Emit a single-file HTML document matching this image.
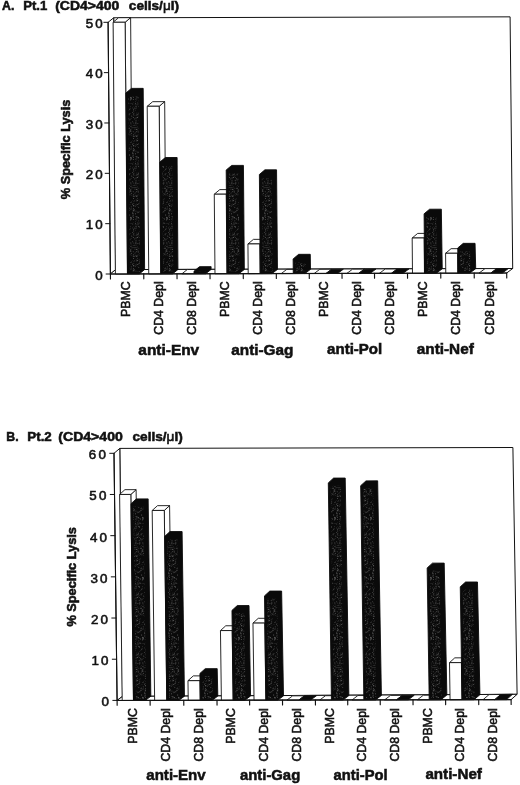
<!DOCTYPE html>
<html lang="en">
<head>
<meta charset="utf-8">
<title>Specific lysis, Pt.1 and Pt.2</title>
<style>html,body{margin:0;padding:0;background:#fff}svg{display:block}</style>
</head>
<body>
<svg width="520" height="785" viewBox="0 0 520 785" font-family="'Liberation Sans', Arial, Helvetica, sans-serif" fill="#111">
<defs><pattern id="sp" width="12" height="60" patternUnits="userSpaceOnUse"><circle cx="3.99" cy="9.05" r="0.39" fill="#666"/><circle cx="9.66" cy="5.65" r="0.37" fill="#444"/><circle cx="2.75" cy="5.16" r="0.33" fill="#888"/><circle cx="1.33" cy="25.47" r="0.43" fill="#666"/><circle cx="11.1" cy="37.84" r="0.37" fill="#666"/><circle cx="6.88" cy="23.8" r="0.47" fill="#666"/><circle cx="6.65" cy="7.99" r="0.33" fill="#444"/><circle cx="1.64" cy="18.51" r="0.43" fill="#888"/><circle cx="1.47" cy="34.27" r="0.27" fill="#666"/><circle cx="6.54" cy="3.77" r="0.24" fill="#888"/><circle cx="5.96" cy="31.9" r="0.42" fill="#777"/><circle cx="6.98" cy="27.19" r="0.3" fill="#888"/><circle cx="8.27" cy="14.65" r="0.37" fill="#444"/><circle cx="5.94" cy="20.61" r="0.34" fill="#444"/><circle cx="11.47" cy="7.08" r="0.33" fill="#555"/><circle cx="2.03" cy="29.34" r="0.23" fill="#999"/><circle cx="1.18" cy="33.48" r="0.43" fill="#555"/><circle cx="4.18" cy="21.01" r="0.35" fill="#777"/><circle cx="1.08" cy="5.62" r="0.29" fill="#999"/><circle cx="7.87" cy="3.64" r="0.4" fill="#999"/><circle cx="6.89" cy="40.87" r="0.34" fill="#999"/><circle cx="4.7" cy="40.12" r="0.23" fill="#777"/><circle cx="4.35" cy="36.66" r="0.35" fill="#888"/><circle cx="9.06" cy="7.76" r="0.28" fill="#777"/><circle cx="10.75" cy="29.79" r="0.26" fill="#777"/><circle cx="6.56" cy="53" r="0.43" fill="#444"/><circle cx="3.47" cy="24.92" r="0.31" fill="#777"/><circle cx="11.22" cy="9.06" r="0.27" fill="#888"/><circle cx="7.81" cy="0.72" r="0.44" fill="#888"/><circle cx="3.3" cy="0.25" r="0.33" fill="#555"/><circle cx="7.25" cy="19.12" r="0.25" fill="#444"/><circle cx="11.13" cy="39.3" r="0.41" fill="#777"/><circle cx="10.55" cy="46.8" r="0.45" fill="#444"/><circle cx="4.77" cy="23.94" r="0.25" fill="#999"/><circle cx="4.87" cy="11.44" r="0.48" fill="#777"/><circle cx="2.15" cy="20.4" r="0.23" fill="#666"/><circle cx="6.76" cy="32.2" r="0.47" fill="#444"/><circle cx="0.59" cy="52.46" r="0.38" fill="#888"/><circle cx="7.53" cy="57.33" r="0.38" fill="#777"/><circle cx="1.7" cy="50.94" r="0.48" fill="#777"/><circle cx="5.78" cy="18.71" r="0.26" fill="#999"/><circle cx="4.21" cy="15.89" r="0.44" fill="#888"/><circle cx="6.19" cy="12.31" r="0.47" fill="#555"/><circle cx="1.97" cy="32.59" r="0.23" fill="#444"/><circle cx="3.7" cy="38.58" r="0.24" fill="#555"/><circle cx="6.21" cy="54.5" r="0.31" fill="#888"/><circle cx="6.37" cy="46.74" r="0.31" fill="#888"/><circle cx="7.29" cy="47.3" r="0.42" fill="#888"/><circle cx="9.49" cy="49.1" r="0.41" fill="#888"/><circle cx="2.58" cy="29.57" r="0.41" fill="#666"/><circle cx="9.31" cy="28.33" r="0.27" fill="#444"/><circle cx="11.2" cy="26.83" r="0.46" fill="#555"/><circle cx="11.19" cy="21.88" r="0.28" fill="#888"/><circle cx="5.66" cy="20.26" r="0.35" fill="#444"/><circle cx="9.88" cy="28.77" r="0.39" fill="#999"/><circle cx="1.27" cy="39.64" r="0.46" fill="#999"/><circle cx="8.85" cy="28.68" r="0.27" fill="#999"/><circle cx="4.09" cy="48.05" r="0.47" fill="#777"/><circle cx="5.58" cy="44.6" r="0.24" fill="#888"/><circle cx="2.24" cy="7.62" r="0.26" fill="#777"/><circle cx="9.49" cy="8.77" r="0.43" fill="#777"/><circle cx="7.79" cy="21.02" r="0.36" fill="#888"/><circle cx="0.54" cy="47.96" r="0.41" fill="#666"/><circle cx="6.3" cy="56.02" r="0.33" fill="#888"/><circle cx="9.72" cy="12.66" r="0.29" fill="#555"/><circle cx="6.01" cy="45.82" r="0.3" fill="#444"/><circle cx="5.08" cy="7.86" r="0.46" fill="#555"/><circle cx="10.53" cy="39.75" r="0.43" fill="#444"/><circle cx="5.1" cy="55.06" r="0.35" fill="#444"/><circle cx="2.03" cy="30.63" r="0.45" fill="#888"/><circle cx="7.24" cy="46.56" r="0.26" fill="#888"/><circle cx="5.7" cy="43.51" r="0.36" fill="#555"/><circle cx="8.08" cy="31.84" r="0.35" fill="#666"/><circle cx="10.37" cy="3.41" r="0.27" fill="#666"/><circle cx="9.1" cy="30.46" r="0.37" fill="#666"/><circle cx="5.35" cy="36.75" r="0.35" fill="#444"/><circle cx="2.57" cy="16.63" r="0.35" fill="#777"/><circle cx="6.09" cy="14.86" r="0.36" fill="#555"/><circle cx="10.82" cy="53.57" r="0.27" fill="#777"/><circle cx="1.86" cy="7.3" r="0.33" fill="#666"/><circle cx="7.95" cy="25.7" r="0.28" fill="#555"/><circle cx="9.24" cy="53.82" r="0.26" fill="#999"/><circle cx="7.64" cy="21.97" r="0.29" fill="#888"/><circle cx="11.33" cy="13.18" r="0.47" fill="#777"/><circle cx="10.39" cy="9.77" r="0.39" fill="#888"/><circle cx="2.14" cy="25.89" r="0.35" fill="#555"/><circle cx="5.1" cy="21.4" r="0.24" fill="#555"/><circle cx="0.52" cy="33.24" r="0.33" fill="#666"/><circle cx="4.68" cy="31.05" r="0.3" fill="#666"/><circle cx="1.59" cy="55.11" r="0.28" fill="#666"/><circle cx="1.26" cy="16.32" r="0.46" fill="#888"/><circle cx="3.38" cy="7.77" r="0.33" fill="#999"/><circle cx="9.64" cy="15.52" r="0.26" fill="#444"/><circle cx="6.8" cy="42.03" r="0.24" fill="#666"/><circle cx="9.42" cy="11" r="0.45" fill="#555"/><circle cx="11" cy="38.07" r="0.43" fill="#666"/><circle cx="7.23" cy="13.34" r="0.29" fill="#666"/><circle cx="5.47" cy="20.35" r="0.36" fill="#555"/><circle cx="7.39" cy="2.59" r="0.4" fill="#666"/><circle cx="11.35" cy="15.71" r="0.27" fill="#555"/><circle cx="7.47" cy="31.87" r="0.27" fill="#777"/><circle cx="6" cy="10.67" r="0.31" fill="#666"/><circle cx="11.64" cy="2.22" r="0.22" fill="#444"/><circle cx="6.58" cy="11.37" r="0.34" fill="#777"/><circle cx="1.51" cy="49.14" r="0.33" fill="#777"/><circle cx="6.52" cy="53.32" r="0.47" fill="#555"/><circle cx="8.14" cy="58.95" r="0.31" fill="#999"/><circle cx="8.61" cy="8.38" r="0.48" fill="#666"/><circle cx="9.84" cy="0.86" r="0.38" fill="#555"/><circle cx="5.21" cy="3.32" r="0.39" fill="#777"/><circle cx="10.22" cy="40.23" r="0.29" fill="#888"/><circle cx="8.2" cy="2.71" r="0.27" fill="#555"/><circle cx="5.38" cy="15.79" r="0.47" fill="#444"/><circle cx="3.99" cy="2.07" r="0.45" fill="#888"/><circle cx="4.37" cy="0.06" r="0.32" fill="#777"/><circle cx="3.48" cy="39.36" r="0.28" fill="#666"/><circle cx="1.34" cy="49.02" r="0.26" fill="#444"/><circle cx="0.78" cy="1.35" r="0.3" fill="#888"/><circle cx="1.26" cy="57.46" r="0.44" fill="#888"/><circle cx="7.8" cy="42.96" r="0.45" fill="#777"/><circle cx="9.01" cy="43.24" r="0.35" fill="#555"/><circle cx="8.56" cy="38.59" r="0.23" fill="#999"/><circle cx="10.47" cy="37.64" r="0.41" fill="#444"/><circle cx="1.89" cy="31.43" r="0.35" fill="#666"/><circle cx="9.72" cy="35.04" r="0.45" fill="#999"/><circle cx="11.2" cy="38.57" r="0.24" fill="#666"/><circle cx="1.82" cy="21.64" r="0.25" fill="#777"/><circle cx="6.67" cy="37.67" r="0.38" fill="#999"/><circle cx="3.09" cy="15.83" r="0.34" fill="#666"/><circle cx="8.83" cy="30.18" r="0.36" fill="#999"/><circle cx="6.3" cy="44.74" r="0.34" fill="#666"/><circle cx="9.95" cy="14.09" r="0.42" fill="#888"/><circle cx="8.73" cy="58.54" r="0.35" fill="#777"/><circle cx="1.17" cy="54.63" r="0.29" fill="#666"/><circle cx="7.33" cy="38.57" r="0.24" fill="#888"/><circle cx="4.08" cy="39.09" r="0.4" fill="#444"/><circle cx="6.77" cy="0.75" r="0.24" fill="#555"/><circle cx="11.39" cy="5.97" r="0.28" fill="#777"/><circle cx="3.62" cy="30.99" r="0.34" fill="#777"/><circle cx="9.05" cy="59.6" r="0.36" fill="#555"/><circle cx="11.45" cy="56.18" r="0.22" fill="#777"/><circle cx="1.17" cy="30.4" r="0.48" fill="#555"/><circle cx="4.71" cy="54.99" r="0.46" fill="#666"/><circle cx="6.93" cy="8.5" r="0.36" fill="#555"/><circle cx="1.81" cy="49.21" r="0.35" fill="#666"/><circle cx="8.32" cy="13.88" r="0.45" fill="#777"/><circle cx="4.79" cy="9.54" r="0.47" fill="#999"/><circle cx="5.44" cy="18.12" r="0.26" fill="#555"/><circle cx="4.59" cy="7.25" r="0.31" fill="#555"/><circle cx="8.86" cy="50.35" r="0.25" fill="#888"/><circle cx="8.43" cy="54.09" r="0.3" fill="#555"/><circle cx="1.04" cy="23.41" r="0.45" fill="#666"/><circle cx="4.41" cy="25.68" r="0.29" fill="#666"/><circle cx="3.5" cy="3.1" r="0.39" fill="#999"/><circle cx="10.97" cy="14.96" r="0.29" fill="#444"/><circle cx="3.9" cy="46.39" r="0.42" fill="#777"/><circle cx="10.38" cy="48.72" r="0.38" fill="#444"/><circle cx="6.56" cy="43.17" r="0.23" fill="#999"/><circle cx="4.98" cy="36.89" r="0.26" fill="#555"/><circle cx="5.84" cy="54.71" r="0.36" fill="#888"/><circle cx="5.68" cy="20.62" r="0.3" fill="#999"/><circle cx="8.72" cy="39.17" r="0.33" fill="#888"/><circle cx="3.73" cy="33.44" r="0.32" fill="#888"/><circle cx="7.63" cy="4.51" r="0.35" fill="#777"/><circle cx="6.57" cy="27.18" r="0.31" fill="#777"/><circle cx="5.17" cy="32.87" r="0.28" fill="#888"/><circle cx="4.2" cy="5.47" r="0.28" fill="#555"/><circle cx="9.53" cy="12.13" r="0.23" fill="#777"/><circle cx="4.66" cy="44.75" r="0.27" fill="#555"/><circle cx="4.16" cy="3.72" r="0.29" fill="#555"/><circle cx="1.73" cy="30.2" r="0.38" fill="#888"/><circle cx="1.36" cy="53.81" r="0.32" fill="#999"/><circle cx="5.38" cy="57.24" r="0.44" fill="#666"/><circle cx="1.75" cy="25.51" r="0.42" fill="#777"/><circle cx="11.34" cy="29.39" r="0.24" fill="#444"/><circle cx="10.05" cy="58.33" r="0.28" fill="#666"/><circle cx="2.85" cy="9.12" r="0.47" fill="#666"/><circle cx="11.03" cy="43.3" r="0.39" fill="#777"/><circle cx="1.27" cy="46.61" r="0.22" fill="#888"/><circle cx="2.95" cy="55.2" r="0.39" fill="#555"/><circle cx="11.27" cy="37.59" r="0.36" fill="#777"/><circle cx="8.26" cy="6.73" r="0.24" fill="#444"/><circle cx="11.06" cy="11.5" r="0.29" fill="#444"/><circle cx="0.31" cy="32.25" r="0.48" fill="#555"/><circle cx="11.23" cy="38.67" r="0.45" fill="#777"/><circle cx="6.3" cy="32.82" r="0.23" fill="#777"/><circle cx="8.33" cy="18.44" r="0.23" fill="#777"/><circle cx="10.39" cy="38.83" r="0.24" fill="#888"/><circle cx="7.91" cy="55.51" r="0.28" fill="#666"/><circle cx="8.23" cy="43.1" r="0.31" fill="#777"/><circle cx="2.56" cy="47.82" r="0.41" fill="#444"/><circle cx="1.07" cy="29.74" r="0.27" fill="#888"/><circle cx="2.93" cy="13.29" r="0.42" fill="#555"/><circle cx="1.54" cy="37.42" r="0.38" fill="#888"/><circle cx="5.83" cy="54.62" r="0.23" fill="#444"/><circle cx="1.97" cy="23.61" r="0.28" fill="#444"/><circle cx="1.92" cy="3.11" r="0.24" fill="#777"/><circle cx="5.43" cy="42.72" r="0.3" fill="#666"/><circle cx="11.67" cy="55.9" r="0.31" fill="#888"/><circle cx="7.74" cy="31.49" r="0.34" fill="#555"/><circle cx="7.87" cy="22.72" r="0.32" fill="#555"/><circle cx="5.34" cy="6.54" r="0.24" fill="#666"/><circle cx="4.31" cy="57.33" r="0.25" fill="#888"/><circle cx="4.63" cy="46.12" r="0.3" fill="#777"/><circle cx="1.3" cy="42.32" r="0.27" fill="#444"/><circle cx="10.78" cy="11.58" r="0.31" fill="#777"/><circle cx="0.65" cy="24.65" r="0.43" fill="#777"/><circle cx="0.76" cy="2.09" r="0.24" fill="#666"/><circle cx="3.23" cy="44.84" r="0.45" fill="#555"/><circle cx="4.44" cy="20.1" r="0.47" fill="#666"/><circle cx="3.29" cy="43" r="0.3" fill="#555"/><circle cx="3.69" cy="43.29" r="0.37" fill="#999"/><circle cx="11.09" cy="3.92" r="0.43" fill="#666"/><circle cx="5.72" cy="57.41" r="0.47" fill="#777"/><circle cx="9.3" cy="54.81" r="0.43" fill="#888"/><circle cx="10.88" cy="10.98" r="0.43" fill="#999"/><circle cx="3.76" cy="41.53" r="0.26" fill="#888"/><circle cx="4.04" cy="19.17" r="0.31" fill="#444"/><circle cx="1.2" cy="11.84" r="0.42" fill="#888"/><circle cx="4.95" cy="38.97" r="0.35" fill="#444"/><circle cx="4.01" cy="58.82" r="0.45" fill="#666"/><circle cx="3.32" cy="5.04" r="0.25" fill="#777"/><circle cx="11.57" cy="58.33" r="0.27" fill="#888"/><circle cx="5.05" cy="37.22" r="0.4" fill="#999"/><circle cx="6.44" cy="46.43" r="0.42" fill="#555"/><circle cx="3.65" cy="34.01" r="0.32" fill="#999"/><circle cx="3.27" cy="26.36" r="0.27" fill="#888"/><circle cx="2.05" cy="53.05" r="0.37" fill="#555"/><circle cx="1.04" cy="15.1" r="0.28" fill="#444"/><circle cx="2.94" cy="48.51" r="0.39" fill="#666"/><circle cx="1.47" cy="28.49" r="0.43" fill="#777"/><circle cx="10.72" cy="2.42" r="0.3" fill="#666"/><circle cx="0.87" cy="36.03" r="0.44" fill="#888"/><circle cx="10.9" cy="22.33" r="0.45" fill="#777"/><circle cx="7.17" cy="46.5" r="0.39" fill="#666"/><circle cx="1.51" cy="35.77" r="0.38" fill="#888"/><circle cx="0.73" cy="20.4" r="0.23" fill="#555"/><circle cx="0.74" cy="43.93" r="0.46" fill="#666"/><circle cx="9.63" cy="24.54" r="0.32" fill="#444"/><circle cx="3.86" cy="12.2" r="0.43" fill="#444"/><circle cx="5.81" cy="24.49" r="0.43" fill="#999"/><circle cx="6.57" cy="38.35" r="0.24" fill="#888"/><circle cx="4.83" cy="16.27" r="0.48" fill="#999"/><circle cx="3.81" cy="57.19" r="0.3" fill="#444"/><circle cx="10.37" cy="24.84" r="0.22" fill="#555"/><circle cx="7.65" cy="23.44" r="0.33" fill="#666"/><circle cx="5.25" cy="9.39" r="0.25" fill="#666"/><circle cx="4.93" cy="52.97" r="0.34" fill="#888"/><circle cx="1.78" cy="3.1" r="0.26" fill="#777"/><circle cx="1.31" cy="37.33" r="0.32" fill="#444"/><circle cx="2.26" cy="20.88" r="0.26" fill="#888"/><circle cx="10.85" cy="6.53" r="0.35" fill="#888"/><circle cx="3.74" cy="50.24" r="0.23" fill="#777"/><circle cx="3.89" cy="36.46" r="0.39" fill="#666"/><circle cx="10.61" cy="37.22" r="0.43" fill="#888"/><circle cx="7.6" cy="51.4" r="0.38" fill="#444"/><circle cx="9.95" cy="49.75" r="0.27" fill="#888"/><circle cx="0.78" cy="56.31" r="0.26" fill="#555"/><circle cx="1.7" cy="14.82" r="0.41" fill="#888"/><circle cx="0.77" cy="33.74" r="0.42" fill="#666"/><circle cx="7.91" cy="19.45" r="0.32" fill="#777"/><circle cx="6.57" cy="37.62" r="0.3" fill="#777"/><circle cx="3.81" cy="14.96" r="0.32" fill="#555"/><circle cx="5.39" cy="26.3" r="0.23" fill="#444"/><circle cx="11.54" cy="27.92" r="0.34" fill="#444"/><circle cx="9.19" cy="27.5" r="0.27" fill="#777"/><circle cx="4.86" cy="4.03" r="0.31" fill="#555"/><circle cx="1.35" cy="26.52" r="0.35" fill="#666"/><circle cx="0.76" cy="7.82" r="0.46" fill="#555"/><circle cx="9.17" cy="30.69" r="0.23" fill="#444"/><circle cx="10.5" cy="39.16" r="0.42" fill="#666"/><circle cx="10.07" cy="59.77" r="0.41" fill="#666"/><circle cx="2.51" cy="58.9" r="0.35" fill="#888"/><circle cx="8.12" cy="43.26" r="0.28" fill="#555"/><circle cx="7.26" cy="15.13" r="0.3" fill="#444"/><circle cx="3.43" cy="48.94" r="0.26" fill="#444"/><circle cx="11.29" cy="28.81" r="0.37" fill="#444"/><circle cx="6.07" cy="19.14" r="0.23" fill="#888"/><circle cx="4.9" cy="38.19" r="0.29" fill="#555"/><circle cx="10.51" cy="10.12" r="0.42" fill="#666"/></pattern></defs>
<rect width="520" height="785" fill="#fff"/>
<g id="chartA">
<polygon points="115.6,269.6 113.7,17.75 510.1,16.85 512.7,268.5" fill="#fff" stroke="#111" stroke-width="1" stroke-linejoin="round"/>
<polygon points="110.4,274 108.1,22.3 113.7,17.75 115.6,269.6" fill="#fff" stroke="#111" stroke-width="1" stroke-linejoin="round"/>
<polygon points="110.4,274 115.6,269.6 512.7,268.5 506.7,273" fill="#fff" stroke="#111" stroke-width="1" stroke-linejoin="round"/>
<line x1="106.1" y1="274" x2="110.4" y2="274" stroke="#111" stroke-width="1" stroke-linecap="round"/>
<line x1="105.64" y1="223.66" x2="109.94" y2="223.66" stroke="#111" stroke-width="1" stroke-linecap="round"/>
<line x1="105.18" y1="173.32" x2="109.48" y2="173.32" stroke="#111" stroke-width="1" stroke-linecap="round"/>
<line x1="104.72" y1="122.98" x2="109.02" y2="122.98" stroke="#111" stroke-width="1" stroke-linecap="round"/>
<line x1="104.26" y1="72.64" x2="108.56" y2="72.64" stroke="#111" stroke-width="1" stroke-linecap="round"/>
<line x1="103.8" y1="22.3" x2="108.1" y2="22.3" stroke="#111" stroke-width="1" stroke-linecap="round"/>
<line x1="110.4" y1="274" x2="110.45" y2="278.9" stroke="#111" stroke-width="1.15" stroke-linecap="round"/>
<line x1="143.75" y1="273.92" x2="143.8" y2="278.82" stroke="#111" stroke-width="1.15" stroke-linecap="round"/>
<line x1="177" y1="273.83" x2="177.05" y2="278.73" stroke="#111" stroke-width="1.15" stroke-linecap="round"/>
<line x1="210" y1="273.75" x2="210.05" y2="278.65" stroke="#111" stroke-width="1.15" stroke-linecap="round"/>
<line x1="243.25" y1="273.67" x2="243.3" y2="278.57" stroke="#111" stroke-width="1.15" stroke-linecap="round"/>
<line x1="276.3" y1="273.58" x2="276.35" y2="278.48" stroke="#111" stroke-width="1.15" stroke-linecap="round"/>
<line x1="309.25" y1="273.5" x2="309.3" y2="278.4" stroke="#111" stroke-width="1.15" stroke-linecap="round"/>
<line x1="342" y1="273.42" x2="342.05" y2="278.32" stroke="#111" stroke-width="1.15" stroke-linecap="round"/>
<line x1="374.5" y1="273.33" x2="374.55" y2="278.23" stroke="#111" stroke-width="1.15" stroke-linecap="round"/>
<line x1="407.5" y1="273.25" x2="407.55" y2="278.15" stroke="#111" stroke-width="1.15" stroke-linecap="round"/>
<line x1="440.75" y1="273.17" x2="440.8" y2="278.07" stroke="#111" stroke-width="1.15" stroke-linecap="round"/>
<line x1="474.2" y1="273.08" x2="474.25" y2="277.98" stroke="#111" stroke-width="1.15" stroke-linecap="round"/>
<line x1="506.7" y1="273" x2="506.75" y2="277.9" stroke="#111" stroke-width="1.15" stroke-linecap="round"/>
<polygon points="127.41,273.96 125.11,22.26 130.61,17.66 132.64,269.58" fill="#fff" stroke="#111" stroke-width="0.9" stroke-linejoin="round"/>
<polygon points="113.1,22.29 118.6,17.69 130.61,17.66 125.11,22.26" fill="#fff" stroke="#111" stroke-width="0.9" stroke-linejoin="round"/>
<polygon points="115.4,273.99 113.1,22.29 125.11,22.26 127.41,273.96" fill="#fff" stroke="#111" stroke-width="0.9" stroke-linejoin="round"/>
<polygon points="127.58,273.96 125.92,92.99 131.42,88.39 143.2,88.36 144.61,269.56 139.35,273.93" fill="#0a0a0a" stroke="#0a0a0a" stroke-width="0.9" stroke-linejoin="round"/>
<polygon points="129.89,271.94 128.29,96.51 138.4,96.48 140,271.91" fill="url(#sp)" stroke="none" stroke-width="0" stroke-linejoin="round"/>
<polygon points="160.71,273.87 159.18,106.25 164.68,101.65 166.01,269.54" fill="#fff" stroke="#111" stroke-width="0.9" stroke-linejoin="round"/>
<polygon points="147.21,106.28 152.71,101.68 164.68,101.65 159.18,106.25" fill="#fff" stroke="#111" stroke-width="0.9" stroke-linejoin="round"/>
<polygon points="148.74,273.9 147.21,106.28 159.18,106.25 160.71,273.87" fill="#fff" stroke="#111" stroke-width="0.9" stroke-linejoin="round"/>
<polygon points="160.87,273.87 159.86,162.12 165.36,157.52 177.1,157.5 177.94,269.52 172.61,273.84" fill="#0a0a0a" stroke="#0a0a0a" stroke-width="0.9" stroke-linejoin="round"/>
<polygon points="163.18,271.85 162.22,165.64 172.29,165.62 173.26,271.83" fill="url(#sp)" stroke="none" stroke-width="0" stroke-linejoin="round"/>
<polygon points="181.95,273.82 187.29,269.51 199.2,269.5 193.83,273.79" fill="#fff" stroke="#111" stroke-width="0.9" stroke-linejoin="round"/>
<polygon points="194,273.79 193.97,271.27 199.47,266.67 211.12,266.64 211.04,269.48 205.64,273.76" fill="#0a0a0a" stroke="#0a0a0a" stroke-width="0.9" stroke-linejoin="round"/>
<polygon points="196.29,271.77 196.28,271.52 206.28,271.49 206.29,271.75" fill="url(#sp)" stroke="none" stroke-width="0" stroke-linejoin="round"/>
<polygon points="226.96,273.71 226.24,194.18 231.74,189.58 232.39,269.45" fill="#fff" stroke="#111" stroke-width="0.9" stroke-linejoin="round"/>
<polygon points="214.27,194.21 219.77,189.61 231.74,189.58 226.24,194.18" fill="#fff" stroke="#111" stroke-width="0.9" stroke-linejoin="round"/>
<polygon points="214.99,273.74 214.27,194.21 226.24,194.18 226.96,273.71" fill="#fff" stroke="#111" stroke-width="0.9" stroke-linejoin="round"/>
<polygon points="227.12,273.71 226.19,170.02 231.69,165.42 243.43,165.39 244.32,269.44 238.86,273.68" fill="#0a0a0a" stroke="#0a0a0a" stroke-width="0.9" stroke-linejoin="round"/>
<polygon points="229.43,271.69 228.55,173.54 238.62,173.51 239.51,271.66" fill="url(#sp)" stroke="none" stroke-width="0" stroke-linejoin="round"/>
<polygon points="260.11,273.62 259.84,243.93 265.34,239.33 265.61,269.41" fill="#fff" stroke="#111" stroke-width="0.9" stroke-linejoin="round"/>
<polygon points="247.94,243.96 253.44,239.36 265.34,239.33 259.84,243.93" fill="#fff" stroke="#111" stroke-width="0.9" stroke-linejoin="round"/>
<polygon points="248.21,273.65 247.94,243.96 259.84,243.93 260.11,273.62" fill="#fff" stroke="#111" stroke-width="0.9" stroke-linejoin="round"/>
<polygon points="260.27,273.62 259.38,174.47 264.88,169.87 276.55,169.84 277.46,269.4 271.94,273.59" fill="#0a0a0a" stroke="#0a0a0a" stroke-width="0.9" stroke-linejoin="round"/>
<polygon points="262.57,271.6 261.72,177.99 271.74,177.96 272.58,271.58" fill="url(#sp)" stroke="none" stroke-width="0" stroke-linejoin="round"/>
<polygon points="281.24,273.57 286.79,269.39 298.67,269.37 293.1,273.54" fill="#fff" stroke="#111" stroke-width="0.9" stroke-linejoin="round"/>
<polygon points="293.27,273.54 293.14,258.94 298.64,254.34 310.27,254.32 310.49,269.36 304.9,273.51" fill="#0a0a0a" stroke="#0a0a0a" stroke-width="0.9" stroke-linejoin="round"/>
<polygon points="295.56,271.52 295.48,262.46 305.46,262.44 305.54,271.5" fill="url(#sp)" stroke="none" stroke-width="0" stroke-linejoin="round"/>
<polygon points="314.16,273.49 319.77,269.33 331.59,269.28 325.95,273.46" fill="#fff" stroke="#111" stroke-width="0.9" stroke-linejoin="round"/>
<polygon points="326.12,273.46 331.75,269.28 343.33,269.23 337.68,273.43" fill="#0a0a0a" stroke="#111" stroke-width="0.9" stroke-linejoin="round"/>
<polygon points="346.88,273.4 352.55,269.19 364.28,269.14 358.57,273.37" fill="#fff" stroke="#111" stroke-width="0.9" stroke-linejoin="round"/>
<polygon points="358.74,273.37 364.44,269.14 375.93,269.09 370.21,273.34" fill="#0a0a0a" stroke="#111" stroke-width="0.9" stroke-linejoin="round"/>
<polygon points="379.45,273.32 385.19,269.05 397.1,268.99 391.33,273.29" fill="#fff" stroke="#111" stroke-width="0.9" stroke-linejoin="round"/>
<polygon points="391.5,273.29 397.26,268.99 408.94,268.94 403.14,273.26" fill="#0a0a0a" stroke="#111" stroke-width="0.9" stroke-linejoin="round"/>
<polygon points="424.46,273.21 424.15,237.98 429.65,233.38 430.29,268.85" fill="#fff" stroke="#111" stroke-width="0.9" stroke-linejoin="round"/>
<polygon points="412.18,238.01 417.68,233.41 429.65,233.38 424.15,237.98" fill="#fff" stroke="#111" stroke-width="0.9" stroke-linejoin="round"/>
<polygon points="412.49,273.24 412.18,238.01 424.15,237.98 424.46,273.21" fill="#fff" stroke="#111" stroke-width="0.9" stroke-linejoin="round"/>
<polygon points="424.62,273.21 424.1,213.82 429.6,209.22 441.34,209.2 442.22,268.8 436.36,273.18" fill="#0a0a0a" stroke="#0a0a0a" stroke-width="0.9" stroke-linejoin="round"/>
<polygon points="426.93,271.19 426.46,217.34 436.53,217.32 437.01,271.16" fill="url(#sp)" stroke="none" stroke-width="0" stroke-linejoin="round"/>
<polygon points="457.81,273.12 457.63,253.25 463.13,248.65 463.71,268.71" fill="#fff" stroke="#111" stroke-width="0.9" stroke-linejoin="round"/>
<polygon points="445.59,253.28 451.09,248.68 463.13,248.65 457.63,253.25" fill="#fff" stroke="#111" stroke-width="0.9" stroke-linejoin="round"/>
<polygon points="445.77,273.15 445.59,253.28 457.63,253.25 457.81,273.12" fill="#fff" stroke="#111" stroke-width="0.9" stroke-linejoin="round"/>
<polygon points="457.98,273.12 457.76,247.96 463.26,243.36 475.06,243.33 475.71,268.66 469.78,273.09" fill="#0a0a0a" stroke="#0a0a0a" stroke-width="0.9" stroke-linejoin="round"/>
<polygon points="460.3,271.11 460.13,251.48 470.26,251.45 470.44,271.08" fill="url(#sp)" stroke="none" stroke-width="0" stroke-linejoin="round"/>
<polygon points="479.07,273.07 485.02,268.62 496.74,268.57 490.77,273.04" fill="#fff" stroke="#111" stroke-width="0.9" stroke-linejoin="round"/>
<polygon points="490.94,273.04 496.91,268.57 508.4,268.52 502.41,273.01" fill="#0a0a0a" stroke="#111" stroke-width="0.9" stroke-linejoin="round"/>
<line x1="110.4" y1="274" x2="506.7" y2="273" stroke="#111" stroke-width="1.05" stroke-linecap="round"/>
<line x1="110.4" y1="274" x2="108.1" y2="22.3" stroke="#111" stroke-width="1.1" stroke-linecap="round"/>
</g>
<g id="chartB">
<polygon points="122.5,696.4 119.8,448.4 512.9,447.5 517.1,694.3" fill="#fff" stroke="#111" stroke-width="1" stroke-linejoin="round"/>
<polygon points="117.1,700.4 114,453.3 119.8,448.4 122.5,696.4" fill="#fff" stroke="#111" stroke-width="1" stroke-linejoin="round"/>
<polygon points="117.1,700.4 122.5,696.4 517.1,694.3 511.1,699.6" fill="#fff" stroke="#111" stroke-width="1" stroke-linejoin="round"/>
<line x1="112.8" y1="700.4" x2="117.1" y2="700.4" stroke="#111" stroke-width="1" stroke-linecap="round"/>
<line x1="112.28" y1="659.22" x2="116.58" y2="659.22" stroke="#111" stroke-width="1" stroke-linecap="round"/>
<line x1="111.77" y1="618.03" x2="116.07" y2="618.03" stroke="#111" stroke-width="1" stroke-linecap="round"/>
<line x1="111.25" y1="576.85" x2="115.55" y2="576.85" stroke="#111" stroke-width="1" stroke-linecap="round"/>
<line x1="110.73" y1="535.67" x2="115.03" y2="535.67" stroke="#111" stroke-width="1" stroke-linecap="round"/>
<line x1="110.22" y1="494.48" x2="114.52" y2="494.48" stroke="#111" stroke-width="1" stroke-linecap="round"/>
<line x1="109.7" y1="453.3" x2="114" y2="453.3" stroke="#111" stroke-width="1" stroke-linecap="round"/>
<line x1="117.1" y1="700.4" x2="117.15" y2="705.3" stroke="#111" stroke-width="1.15" stroke-linecap="round"/>
<line x1="150.1" y1="700.33" x2="150.15" y2="705.23" stroke="#111" stroke-width="1.15" stroke-linecap="round"/>
<line x1="183.75" y1="700.27" x2="183.8" y2="705.17" stroke="#111" stroke-width="1.15" stroke-linecap="round"/>
<line x1="217" y1="700.2" x2="217.05" y2="705.1" stroke="#111" stroke-width="1.15" stroke-linecap="round"/>
<line x1="249.6" y1="700.13" x2="249.65" y2="705.03" stroke="#111" stroke-width="1.15" stroke-linecap="round"/>
<line x1="282.5" y1="700.07" x2="282.55" y2="704.97" stroke="#111" stroke-width="1.15" stroke-linecap="round"/>
<line x1="315.4" y1="700" x2="315.45" y2="704.9" stroke="#111" stroke-width="1.15" stroke-linecap="round"/>
<line x1="347.7" y1="699.93" x2="347.75" y2="704.83" stroke="#111" stroke-width="1.15" stroke-linecap="round"/>
<line x1="380.2" y1="699.87" x2="380.25" y2="704.77" stroke="#111" stroke-width="1.15" stroke-linecap="round"/>
<line x1="413" y1="699.8" x2="413.05" y2="704.7" stroke="#111" stroke-width="1.15" stroke-linecap="round"/>
<line x1="445.6" y1="699.73" x2="445.65" y2="704.63" stroke="#111" stroke-width="1.15" stroke-linecap="round"/>
<line x1="478.7" y1="699.67" x2="478.75" y2="704.57" stroke="#111" stroke-width="1.15" stroke-linecap="round"/>
<line x1="511.1" y1="699.6" x2="511.15" y2="704.5" stroke="#111" stroke-width="1.15" stroke-linecap="round"/>
<polygon points="133.44,700.37 130.82,494.45 136.12,489.65 138.86,696.35" fill="#fff" stroke="#111" stroke-width="0.9" stroke-linejoin="round"/>
<polygon points="119.62,494.47 124.92,489.67 136.12,489.65 130.82,494.45" fill="#fff" stroke="#111" stroke-width="0.9" stroke-linejoin="round"/>
<polygon points="122.21,700.39 119.62,494.47 130.82,494.45 133.44,700.37" fill="#fff" stroke="#111" stroke-width="0.9" stroke-linejoin="round"/>
<polygon points="133.5,700.37 131,503.71 136.3,498.91 148.16,498.89 150.83,696.31 145.38,700.34" fill="#0a0a0a" stroke="#0a0a0a" stroke-width="0.9" stroke-linejoin="round"/>
<polygon points="135.79,698.71 133.35,506.59 143.56,506.57 146.02,698.69" fill="url(#sp)" stroke="none" stroke-width="0" stroke-linejoin="round"/>
<polygon points="166.76,700.3 164.29,510.44 169.59,505.64 172.25,696.24" fill="#fff" stroke="#111" stroke-width="0.9" stroke-linejoin="round"/>
<polygon points="152.2,510.46 157.5,505.66 169.59,505.64 164.29,510.44" fill="#fff" stroke="#111" stroke-width="0.9" stroke-linejoin="round"/>
<polygon points="154.64,700.32 152.2,510.46 164.29,510.44 166.76,700.3" fill="#fff" stroke="#111" stroke-width="0.9" stroke-linejoin="round"/>
<polygon points="166.82,700.3 164.69,536.38 169.99,531.58 182.09,531.56 184.45,696.2 178.94,700.28" fill="#0a0a0a" stroke="#0a0a0a" stroke-width="0.9" stroke-linejoin="round"/>
<polygon points="169.16,698.65 167.08,539.26 177.5,539.24 179.59,698.63" fill="url(#sp)" stroke="none" stroke-width="0" stroke-linejoin="round"/>
<polygon points="200.21,700.23 199.95,680.67 205.25,675.87 205.76,696.13" fill="#fff" stroke="#111" stroke-width="0.9" stroke-linejoin="round"/>
<polygon points="187.98,680.69 193.28,675.89 205.25,675.87 199.95,680.67" fill="#fff" stroke="#111" stroke-width="0.9" stroke-linejoin="round"/>
<polygon points="188.24,700.26 187.98,680.69 199.95,680.67 200.21,700.23" fill="#fff" stroke="#111" stroke-width="0.9" stroke-linejoin="round"/>
<polygon points="200.28,700.23 199.92,673.46 205.22,668.66 217.19,668.64 217.82,696.1 212.25,700.21" fill="#0a0a0a" stroke="#0a0a0a" stroke-width="0.9" stroke-linejoin="round"/>
<polygon points="202.58,698.58 202.28,676.34 212.59,676.32 212.89,698.56" fill="url(#sp)" stroke="none" stroke-width="0" stroke-linejoin="round"/>
<polygon points="233.14,700.17 232.19,630.56 237.49,625.76 238.75,696.03" fill="#fff" stroke="#111" stroke-width="0.9" stroke-linejoin="round"/>
<polygon points="220.46,630.58 225.76,625.78 237.49,625.76 232.19,630.56" fill="#fff" stroke="#111" stroke-width="0.9" stroke-linejoin="round"/>
<polygon points="221.4,700.19 220.46,630.58 232.19,630.56 233.14,700.17" fill="#fff" stroke="#111" stroke-width="0.9" stroke-linejoin="round"/>
<polygon points="233.2,700.17 231.98,610.38 237.28,605.58 249.01,605.55 250.57,695.99 244.94,700.14" fill="#0a0a0a" stroke="#0a0a0a" stroke-width="0.9" stroke-linejoin="round"/>
<polygon points="235.46,698.51 234.3,613.25 244.4,613.23 245.57,698.49" fill="url(#sp)" stroke="none" stroke-width="0" stroke-linejoin="round"/>
<polygon points="265.89,700.1 264.81,623.08 270.11,618.28 271.56,695.92" fill="#fff" stroke="#111" stroke-width="0.9" stroke-linejoin="round"/>
<polygon points="252.98,623.1 258.28,618.3 270.11,618.28 264.81,623.08" fill="#fff" stroke="#111" stroke-width="0.9" stroke-linejoin="round"/>
<polygon points="254.04,700.12 252.98,623.1 264.81,623.08 265.89,700.1" fill="#fff" stroke="#111" stroke-width="0.9" stroke-linejoin="round"/>
<polygon points="265.95,700.1 264.5,595.89 269.8,591.09 281.63,591.07 283.49,695.88 277.8,700.08" fill="#0a0a0a" stroke="#0a0a0a" stroke-width="0.9" stroke-linejoin="round"/>
<polygon points="268.23,698.45 266.84,598.77 277.03,598.75 278.43,698.43" fill="url(#sp)" stroke="none" stroke-width="0" stroke-linejoin="round"/>
<polygon points="286.94,700.06 292.65,695.85 304.51,695.8 298.79,700.03" fill="#fff" stroke="#111" stroke-width="0.9" stroke-linejoin="round"/>
<polygon points="298.85,700.03 304.58,695.8 316.44,695.75 310.7,700.01" fill="#0a0a0a" stroke="#111" stroke-width="0.9" stroke-linejoin="round"/>
<polygon points="319.76,699.99 325.52,695.71 337.16,695.65 331.39,699.97" fill="#fff" stroke="#111" stroke-width="0.9" stroke-linejoin="round"/>
<polygon points="331.45,699.97 328.3,482.88 333.6,478.08 345.21,478.06 348.87,695.6 343.08,699.94" fill="#0a0a0a" stroke="#0a0a0a" stroke-width="0.9" stroke-linejoin="round"/>
<polygon points="333.69,698.31 330.6,485.76 340.59,485.74 343.7,698.29" fill="url(#sp)" stroke="none" stroke-width="0" stroke-linejoin="round"/>
<polygon points="352.09,699.92 357.89,695.56 369.61,695.51 363.79,699.9" fill="#fff" stroke="#111" stroke-width="0.9" stroke-linejoin="round"/>
<polygon points="363.85,699.9 360.68,485.69 365.98,480.89 377.66,480.87 381.4,695.46 375.55,699.88" fill="#0a0a0a" stroke="#0a0a0a" stroke-width="0.9" stroke-linejoin="round"/>
<polygon points="366.1,698.25 362.99,488.57 373.05,488.55 376.18,698.23" fill="url(#sp)" stroke="none" stroke-width="0" stroke-linejoin="round"/>
<polygon points="384.63,699.86 390.48,695.42 402.31,695.37 396.44,699.83" fill="#fff" stroke="#111" stroke-width="0.9" stroke-linejoin="round"/>
<polygon points="396.5,699.83 402.38,695.37 414.2,695.32 408.31,699.81" fill="#0a0a0a" stroke="#111" stroke-width="0.9" stroke-linejoin="round"/>
<polygon points="417.4,699.79 423.31,695.26 435.05,695.14 429.14,699.77" fill="#fff" stroke="#111" stroke-width="0.9" stroke-linejoin="round"/>
<polygon points="429.2,699.77 427.17,567.94 432.47,563.14 444.19,563.11 446.87,695.01 440.94,699.74" fill="#0a0a0a" stroke="#0a0a0a" stroke-width="0.9" stroke-linejoin="round"/>
<polygon points="431.46,698.11 429.49,570.82 439.59,570.79 441.56,698.09" fill="url(#sp)" stroke="none" stroke-width="0" stroke-linejoin="round"/>
<polygon points="461.98,699.7 461.4,662.62 466.7,657.82 467.93,694.8" fill="#fff" stroke="#111" stroke-width="0.9" stroke-linejoin="round"/>
<polygon points="449.49,662.65 454.79,657.85 466.7,657.82 461.4,662.62" fill="#fff" stroke="#111" stroke-width="0.9" stroke-linejoin="round"/>
<polygon points="450.07,699.72 449.49,662.65 461.4,662.62 461.98,699.7" fill="#fff" stroke="#111" stroke-width="0.9" stroke-linejoin="round"/>
<polygon points="462.05,699.7 460.28,586.82 465.58,582.02 477.48,581.99 479.93,694.68 473.97,699.68" fill="#0a0a0a" stroke="#0a0a0a" stroke-width="0.9" stroke-linejoin="round"/>
<polygon points="464.34,698.05 462.64,589.7 472.89,589.68 474.6,698.03" fill="url(#sp)" stroke="none" stroke-width="0" stroke-linejoin="round"/>
<polygon points="483.07,699.66 489.05,694.59 500.72,694.47 494.74,699.63" fill="#fff" stroke="#111" stroke-width="0.9" stroke-linejoin="round"/>
<polygon points="494.8,699.63 500.79,694.47 512.46,694.35 506.47,699.61" fill="#0a0a0a" stroke="#111" stroke-width="0.9" stroke-linejoin="round"/>
<line x1="117.1" y1="700.4" x2="511.1" y2="699.6" stroke="#111" stroke-width="1.05" stroke-linecap="round"/>
<line x1="117.1" y1="700.4" x2="114" y2="453.3" stroke="#111" stroke-width="1.1" stroke-linecap="round"/>
</g>
<g id="labels">
<text x="2.1" y="10.2" font-size="13" font-weight="bold" textLength="12.3" lengthAdjust="spacingAndGlyphs" stroke="#111" stroke-width="0.55">A.</text>
<text x="23.2" y="10.2" font-size="13" font-weight="bold" textLength="24" lengthAdjust="spacingAndGlyphs" stroke="#111" stroke-width="0.55">Pt.1</text>
<text x="55.2" y="10.2" font-size="13" font-weight="bold" textLength="64" lengthAdjust="spacingAndGlyphs" stroke="#111" stroke-width="0.55">(CD4&gt;400</text>
<text x="128.8" y="10.2" font-size="13" font-weight="bold" textLength="50.3" lengthAdjust="spacingAndGlyphs" stroke="#111" stroke-width="0.55">cells/<tspan font-weight="normal">μ</tspan>l)</text>
<text x="6.3" y="441.3" font-size="13" font-weight="bold" textLength="12.3" lengthAdjust="spacingAndGlyphs" stroke="#111" stroke-width="0.55">B.</text>
<text x="27.3" y="441.3" font-size="13" font-weight="bold" textLength="24.5" lengthAdjust="spacingAndGlyphs" stroke="#111" stroke-width="0.55">Pt.2</text>
<text x="58.3" y="441.3" font-size="13" font-weight="bold" textLength="64.5" lengthAdjust="spacingAndGlyphs" stroke="#111" stroke-width="0.55">(CD4&gt;400</text>
<text x="132.5" y="441.3" font-size="13" font-weight="bold" textLength="50.3" lengthAdjust="spacingAndGlyphs" stroke="#111" stroke-width="0.55">cells/<tspan font-weight="normal">μ</tspan>l)</text>
<text transform="translate(95.25 279.6) scale(1.03 1)" x="0" y="0" font-size="13" stroke="#111" stroke-width="0.55">0</text>
<text transform="translate(85.65 229.26) scale(1.03 1)" x="0 9.32" y="0" font-size="13" stroke="#111" stroke-width="0.55">10</text>
<text transform="translate(85.65 178.92) scale(1.03 1)" x="0 9.32" y="0" font-size="13" stroke="#111" stroke-width="0.55">20</text>
<text transform="translate(85.65 128.58) scale(1.03 1)" x="0 9.32" y="0" font-size="13" stroke="#111" stroke-width="0.55">30</text>
<text transform="translate(85.65 78.24) scale(1.03 1)" x="0 9.32" y="0" font-size="13" stroke="#111" stroke-width="0.55">40</text>
<text transform="translate(85.65 27.9) scale(1.03 1)" x="0 9.32" y="0" font-size="13" stroke="#111" stroke-width="0.55">50</text>
<text transform="translate(101.55 706.3) scale(1.03 1)" x="0" y="0" font-size="13" stroke="#111" stroke-width="0.55">0</text>
<text transform="translate(91.44 665.12) scale(1.03 1)" x="0 9.32" y="0" font-size="13" stroke="#111" stroke-width="0.55">10</text>
<text transform="translate(90.92 623.93) scale(1.03 1)" x="0 9.32" y="0" font-size="13" stroke="#111" stroke-width="0.55">20</text>
<text transform="translate(90.4 582.75) scale(1.03 1)" x="0 9.32" y="0" font-size="13" stroke="#111" stroke-width="0.55">30</text>
<text transform="translate(89.89 541.57) scale(1.03 1)" x="0 9.32" y="0" font-size="13" stroke="#111" stroke-width="0.55">40</text>
<text transform="translate(89.37 500.38) scale(1.03 1)" x="0 9.32" y="0" font-size="13" stroke="#111" stroke-width="0.55">50</text>
<text transform="translate(88.85 459.2) scale(1.03 1)" x="0 9.32" y="0" font-size="13" stroke="#111" stroke-width="0.55">60</text>
<text x="70.2" y="199.2" font-size="12.6" font-weight="bold" textLength="99.5" lengthAdjust="spacingAndGlyphs" transform="rotate(-90 70.2 199.2)" stroke="#111" stroke-width="0.55">% Specific Lysis</text>
<text x="75.6" y="626.6" font-size="12.6" font-weight="bold" textLength="99.5" lengthAdjust="spacingAndGlyphs" transform="rotate(-90 75.6 626.6)" stroke="#111" stroke-width="0.55">% Specific Lysis</text>
<text x="129.9" y="281.3" font-size="12.4" text-anchor="end" textLength="35.6" lengthAdjust="spacingAndGlyphs" transform="rotate(-90 129.9 281.3)" stroke="#111" stroke-width="0.55">PBMC</text>
<text x="137.4" y="708.2" font-size="12.4" text-anchor="end" textLength="35.6" lengthAdjust="spacingAndGlyphs" transform="rotate(-90 137.4 708.2)" stroke="#111" stroke-width="0.55">PBMC</text>
<text x="162.96" y="281.3" font-size="12.4" text-anchor="end" textLength="53.4" lengthAdjust="spacingAndGlyphs" transform="rotate(-90 162.96 281.3)" stroke="#111" stroke-width="0.55">CD4 Depl</text>
<text x="170.1" y="708.2" font-size="12.4" text-anchor="end" textLength="53.4" lengthAdjust="spacingAndGlyphs" transform="rotate(-90 170.1 708.2)" stroke="#111" stroke-width="0.55">CD4 Depl</text>
<text x="196.02" y="281.3" font-size="12.4" text-anchor="end" textLength="53.4" lengthAdjust="spacingAndGlyphs" transform="rotate(-90 196.02 281.3)" stroke="#111" stroke-width="0.55">CD8 Depl</text>
<text x="202.8" y="708.2" font-size="12.4" text-anchor="end" textLength="53.4" lengthAdjust="spacingAndGlyphs" transform="rotate(-90 202.8 708.2)" stroke="#111" stroke-width="0.55">CD8 Depl</text>
<text x="229.08" y="281.3" font-size="12.4" text-anchor="end" textLength="35.6" lengthAdjust="spacingAndGlyphs" transform="rotate(-90 229.08 281.3)" stroke="#111" stroke-width="0.55">PBMC</text>
<text x="235.5" y="708.2" font-size="12.4" text-anchor="end" textLength="35.6" lengthAdjust="spacingAndGlyphs" transform="rotate(-90 235.5 708.2)" stroke="#111" stroke-width="0.55">PBMC</text>
<text x="262.14" y="281.3" font-size="12.4" text-anchor="end" textLength="53.4" lengthAdjust="spacingAndGlyphs" transform="rotate(-90 262.14 281.3)" stroke="#111" stroke-width="0.55">CD4 Depl</text>
<text x="268.2" y="708.2" font-size="12.4" text-anchor="end" textLength="53.4" lengthAdjust="spacingAndGlyphs" transform="rotate(-90 268.2 708.2)" stroke="#111" stroke-width="0.55">CD4 Depl</text>
<text x="295.2" y="281.3" font-size="12.4" text-anchor="end" textLength="53.4" lengthAdjust="spacingAndGlyphs" transform="rotate(-90 295.2 281.3)" stroke="#111" stroke-width="0.55">CD8 Depl</text>
<text x="300.9" y="708.2" font-size="12.4" text-anchor="end" textLength="53.4" lengthAdjust="spacingAndGlyphs" transform="rotate(-90 300.9 708.2)" stroke="#111" stroke-width="0.55">CD8 Depl</text>
<text x="328.26" y="281.3" font-size="12.4" text-anchor="end" textLength="35.6" lengthAdjust="spacingAndGlyphs" transform="rotate(-90 328.26 281.3)" stroke="#111" stroke-width="0.55">PBMC</text>
<text x="333.6" y="708.2" font-size="12.4" text-anchor="end" textLength="35.6" lengthAdjust="spacingAndGlyphs" transform="rotate(-90 333.6 708.2)" stroke="#111" stroke-width="0.55">PBMC</text>
<text x="361.32" y="281.3" font-size="12.4" text-anchor="end" textLength="53.4" lengthAdjust="spacingAndGlyphs" transform="rotate(-90 361.32 281.3)" stroke="#111" stroke-width="0.55">CD4 Depl</text>
<text x="366.3" y="708.2" font-size="12.4" text-anchor="end" textLength="53.4" lengthAdjust="spacingAndGlyphs" transform="rotate(-90 366.3 708.2)" stroke="#111" stroke-width="0.55">CD4 Depl</text>
<text x="394.38" y="281.3" font-size="12.4" text-anchor="end" textLength="53.4" lengthAdjust="spacingAndGlyphs" transform="rotate(-90 394.38 281.3)" stroke="#111" stroke-width="0.55">CD8 Depl</text>
<text x="399" y="708.2" font-size="12.4" text-anchor="end" textLength="53.4" lengthAdjust="spacingAndGlyphs" transform="rotate(-90 399 708.2)" stroke="#111" stroke-width="0.55">CD8 Depl</text>
<text x="427.44" y="281.3" font-size="12.4" text-anchor="end" textLength="35.6" lengthAdjust="spacingAndGlyphs" transform="rotate(-90 427.44 281.3)" stroke="#111" stroke-width="0.55">PBMC</text>
<text x="431.7" y="708.2" font-size="12.4" text-anchor="end" textLength="35.6" lengthAdjust="spacingAndGlyphs" transform="rotate(-90 431.7 708.2)" stroke="#111" stroke-width="0.55">PBMC</text>
<text x="460.5" y="281.3" font-size="12.4" text-anchor="end" textLength="53.4" lengthAdjust="spacingAndGlyphs" transform="rotate(-90 460.5 281.3)" stroke="#111" stroke-width="0.55">CD4 Depl</text>
<text x="464.4" y="708.2" font-size="12.4" text-anchor="end" textLength="53.4" lengthAdjust="spacingAndGlyphs" transform="rotate(-90 464.4 708.2)" stroke="#111" stroke-width="0.55">CD4 Depl</text>
<text x="493.56" y="281.3" font-size="12.4" text-anchor="end" textLength="53.4" lengthAdjust="spacingAndGlyphs" transform="rotate(-90 493.56 281.3)" stroke="#111" stroke-width="0.55">CD8 Depl</text>
<text x="497.1" y="708.2" font-size="12.4" text-anchor="end" textLength="53.4" lengthAdjust="spacingAndGlyphs" transform="rotate(-90 497.1 708.2)" stroke="#111" stroke-width="0.55">CD8 Depl</text>
<text x="138.3" y="354.8" font-size="15" font-weight="bold" textLength="60.9" lengthAdjust="spacingAndGlyphs" stroke="#111" stroke-width="0.55">anti-Env</text>
<text x="231.3" y="354.6" font-size="15" font-weight="bold" textLength="62.1" lengthAdjust="spacingAndGlyphs" stroke="#111" stroke-width="0.55">anti-Gag</text>
<text x="327.1" y="354.2" font-size="15" font-weight="bold" textLength="55.1" lengthAdjust="spacingAndGlyphs" stroke="#111" stroke-width="0.55">anti-Pol</text>
<text x="416.8" y="354" font-size="15" font-weight="bold" textLength="57" lengthAdjust="spacingAndGlyphs" stroke="#111" stroke-width="0.55">anti-Nef</text>
<text x="146.3" y="780" font-size="15" font-weight="bold" textLength="59.4" lengthAdjust="spacingAndGlyphs" stroke="#111" stroke-width="0.55">anti-Env</text>
<text x="240" y="779.8" font-size="15" font-weight="bold" textLength="60.2" lengthAdjust="spacingAndGlyphs" stroke="#111" stroke-width="0.55">anti-Gag</text>
<text x="333.6" y="779.5" font-size="15" font-weight="bold" textLength="54.1" lengthAdjust="spacingAndGlyphs" stroke="#111" stroke-width="0.55">anti-Pol</text>
<text x="425.4" y="778.7" font-size="15" font-weight="bold" textLength="56.5" lengthAdjust="spacingAndGlyphs" stroke="#111" stroke-width="0.55">anti-Nef</text>
</g>
</svg>
</body>
</html>
